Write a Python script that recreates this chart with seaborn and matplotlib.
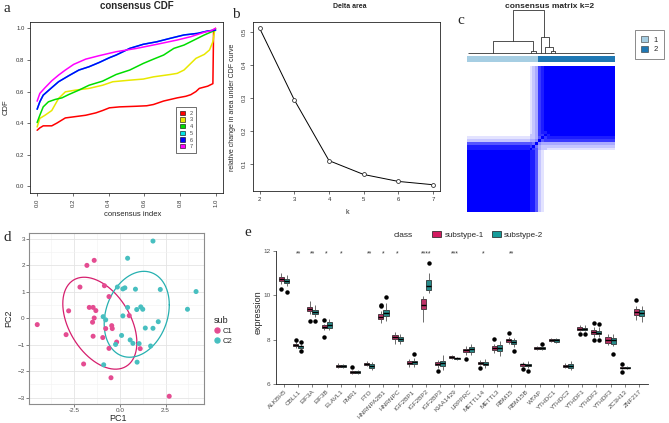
import numpy as np
import pandas as pd
import matplotlib
matplotlib.use("Agg")
import matplotlib.pyplot as plt
import seaborn as sns
from matplotlib.colors import ListedColormap
from matplotlib.patches import Patch
from matplotlib.lines import Line2D

# ---------------- panel a: consensus CDF ----------------
cdf_k = ["2", "3", "4", "5", "6", "7"]
cdf_colors = ["#FF0000", "#E8E800", "#00DD00", "#00E5E5", "#0000FF", "#FF00FF"]
cdf2_x = [0, .015, .034, .082, .11, .158, .205, .272, .329, .367, .405, .462, .557,
          .614, .652, .709, .785, .833, .861, .89, .909, .956, .985, .989, 1.0]
cdf2_y = [.355, .37, .383, .383, .40, .433, .44, .45, .465, .48, .497, .503, .507,
          .51, .518, .54, .56, .57, .58, .60, .62, .634, .65, .99, 1.0]
cdf3_x = [0, .015, .044, .082, .12, .158, .215, .291, .367, .424, .519, .595, .652,
          .747, .785, .823, .861, .89, .937, .966, .985, .994, 1.0]
cdf3_y = [.376, .43, .45, .48, .556, .598, .609, .62, .64, .662, .672, .679, .693,
          .708, .715, .736, .778, .81, .835, .863, .915, .979, .996]
cdf4_x = [0, .015, .034, .063, .101, .139, .177, .234, .291, .367, .443, .519, .595,
          .652, .709, .766, .823, .88, .937, 1.0]
cdf4_y = [.404, .45, .503, .535, .55, .56, .581, .609, .64, .666, .708, .736, .778,
          .805, .831, .873, .894, .926, .958, .989]
cdf6_x = [0, .015, .034, .072, .12, .177, .234, .291, .348, .405, .443, .519, .595,
          .671, .747, .823, .899, .956, 1.0]
cdf6_y = [.488, .535, .577, .615, .662, .70, .736, .757, .784, .814, .831, .873, .899,
          .915, .937, .958, .968, .983, .989]
# the k=5 curve is hidden underneath k=6 in the figure
cdf5_x = cdf6_x
cdf5_y = cdf6_y
cdf7_x = [0, .015, .044, .082, .12, .158, .205, .272, .348, .443, .557, .671, .785,
          .861, .937, .975, 1.0]
cdf7_y = [.539, .588, .624, .668, .704, .736, .772, .805, .827, .852, .873, .899, .926,
          .947, .975, .985, 1.0]

# ---------------- panel b: delta area ----------------
delta_k = [2, 3, 4, 5, 6, 7]
delta_area = [0.51, 0.293, 0.109, 0.067, 0.046, 0.036]

# ---------------- panel c: consensus matrix k=2 ----------------
# per-sample share of resamplings in which the sample fell into cluster 2
cluster_share = [0.0] * 22 + [0.15, 0.2, 0.35] + [0.75, 0.85, 0.9, 0.95] + [1.0] * 23
dend_left = [16.3, 9.3, 22.4, 25.9, 27.4, 29.4]
dend_right = [27.1, 23.35, 24.3, 28.8, 30.2, 31.0]
dend_height = [1.0, 0.28, 0.05, 0.36, 0.13, 0.05]
dend_lchild = [0.28, 0.0, 0.0, 0.0, 0.0, 0.0]
dend_rchild = [0.36, 0.05, 0.0, 0.13, 0.05, 0.0]
cluster_colors = ["#A6CEE3", "#1F78B4"]

# ---------------- panel d: PCA ----------------
c1_pc1 = [-4.53, -2.95, -2.81, -2.19, -1.81, -1.41, -1.99, -1.68, -1.47, -1.32, -1.41,
          -1.50, -1.47, -0.85, -0.60, -0.94, -0.78, -0.45, -0.42, -0.60, -0.18, -0.49,
          0.51, 1.11, 2.70]
c1_pc2 = [-0.24, -0.62, 0.28, 1.18, 2.0, 2.19, -1.73, 0.41, 0.41, 0.29, 0.01,
          -0.15, -0.68, 1.23, 0.82, -0.73, -0.39, -0.28, -0.39, -1.14, -0.90, -2.25,
          0.10, -1.15, -2.95]
c2_pc1 = [1.81, 0.42, -0.14, 0.16, 0.27, 0.85, 2.21, 4.17, 0.42, 0.92, 1.14, 1.25, 3.70,
          -0.92, -0.78, 0.16, 1.39, 1.81, 2.10, 0.09, 0.56, 0.71, 1.05, 1.68, -0.24,
          0.94, -0.89]
c2_pc2 = [2.92, 2.27, 1.18, 1.11, 1.15, 1.10, 1.09, 1.01, 0.41, 0.33, 0.43, 0.34, 0.34,
          0.06, -0.06, 0.09, -0.37, -0.38, -0.13, -0.65, -0.82, -0.95, -0.96, -1.05, -0.99,
          -1.66, -1.76]
pca_point_colors = {"C1": "#E44C91", "C2": "#47BFC0"}
pca_ellipse_colors = {"C1": "#D61F6E", "C2": "#26B0B0"}
ellipse_level = 0.64

# ---------------- panel e: m6A regulator expression ----------------
genes = ["ALKBH5", "CBLL1", "EIF3A", "EIF3B", "ELAVL1", "FMR1", "FTO", "HNRNPA2B1",
         "HNRNPC", "IGF2BP1", "IGF2BP2", "IGF2BP3", "KIAA1429", "LRPPRC", "METTL14",
         "METTL3", "RBM15", "RBM15B", "WTAP", "YTHDC1", "YTHDC2", "YTHDF1", "YTHDF2",
         "YTHDF3", "ZC3H13", "ZNF217"]
sig_labels = ["", "**", "**", "*", "*", "", "**", "*", "*", "", "****", "", "***", "",
              "*", "", "**", "", "", "", "", "", "", "", "", ""]
sub1_lo = [10.50, 7.64, 9.16, 8.45, 6.72, 6.47, 6.80, 8.74, 7.82, 6.76, 8.80, 6.75, 7.15,
           7.30, 6.85, 7.40, 7.82, 6.79, 7.55, 7.88, 6.71, 8.40, 8.12, 7.76, 6.70, 8.90]
sub1_q1 = [10.62, 7.72, 9.30, 8.52, 6.78, 6.52, 6.85, 8.94, 8.04, 6.90, 9.40, 6.86, 7.20,
           7.43, 6.90, 7.54, 7.92, 6.84, 7.60, 7.95, 6.76, 8.44, 8.26, 7.84, 6.72, 9.12]
sub1_med = [10.72, 7.76, 9.38, 8.59, 6.83, 6.56, 6.91, 9.04, 8.14, 6.96, 9.58, 6.93, 7.23,
            7.53, 6.95, 7.62, 7.98, 6.89, 7.64, 8.00, 6.83, 8.50, 8.33, 7.98, 6.75, 9.26]
sub1_q3 = [10.82, 7.80, 9.47, 8.65, 6.87, 6.59, 6.95, 9.14, 8.22, 7.03, 9.84, 7.01, 7.27,
           7.60, 6.99, 7.70, 8.04, 6.92, 7.67, 8.04, 6.88, 8.56, 8.42, 8.11, 6.78, 9.37]
sub1_hi = [11.02, 7.88, 9.72, 8.72, 6.97, 6.64, 7.03, 9.30, 8.35, 7.15, 9.97, 7.10, 7.31,
           7.74, 7.07, 7.82, 8.13, 7.00, 7.72, 8.10, 6.95, 8.68, 8.58, 8.26, 6.82, 9.50]
sub1_out = [[10.28], [7.98], [8.84], [8.88, 8.14], [], [6.76], [], [9.50, 9.56], [], [],
            [], [6.60], [], [7.14], [6.74], [8.04], [8.30], [6.68], [], [], [], [8.24],
            [8.74, 7.99], [], [6.93, 6.57], [9.78]]
sub2_lo = [10.40, 7.60, 9.02, 8.42, 6.72, 6.47, 6.64, 8.84, 7.79, 6.79, 10.08, 6.64, 7.08,
           7.32, 6.72, 7.27, 7.66, 6.74, 7.52, 7.84, 6.64, 8.38, 8.12, 7.70, 6.69, 8.82]
sub2_q1 = [10.56, 7.65, 9.16, 8.55, 6.76, 6.51, 6.73, 9.08, 7.93, 6.91, 10.22, 6.82, 7.12,
           7.45, 6.87, 7.50, 7.80, 6.82, 7.57, 7.92, 6.73, 8.43, 8.24, 7.81, 6.73, 9.05]
sub2_med = [10.65, 7.70, 9.25, 8.68, 6.81, 6.54, 6.81, 9.22, 8.02, 6.98, 10.40, 6.94, 7.16,
            7.60, 6.93, 7.63, 7.89, 6.87, 7.62, 7.98, 6.81, 8.48, 8.32, 7.97, 6.75, 9.22]
sub2_q3 = [10.74, 7.74, 9.33, 8.82, 6.85, 6.58, 6.89, 9.33, 8.12, 7.06, 10.70, 7.04, 7.19,
           7.67, 6.99, 7.78, 7.97, 6.92, 7.66, 8.03, 6.89, 8.54, 8.39, 8.08, 6.77, 9.34]
sub2_hi = [10.93, 7.79, 9.54, 8.95, 6.92, 6.63, 7.00, 9.65, 8.24, 7.20, 11.02, 7.30, 7.23,
           7.82, 7.12, 7.94, 8.08, 7.04, 7.71, 8.10, 7.04, 8.66, 8.56, 8.25, 6.82, 9.50]
sub2_out = [[10.14], [7.88, 7.50], [8.84], [], [], [], [], [9.92], [], [7.36], [11.45],
            [], [], [], [], [], [7.50], [6.59], [7.83], [], [], [8.24], [8.70, 7.99],
            [7.38], [], []]
class_colors = {"substype-1": "#D41A60", "substype-2": "#169C9A"}

# ---------------- figure ----------------
W, H = 669, 423
sns.set_theme(style="white")
plt.rcParams["font.family"] = ["Liberation Sans", "DejaVu Sans"]
fig = plt.figure(figsize=(W / 100, H / 100), dpi=100)


def add_ax(x0, y0, x1, y1):
    return fig.add_axes([x0 / W, 1 - y1 / H, (x1 - x0) / W, (y1 - y0) / H])


def ftext(x, y, s, **kw):
    kw.setdefault("ha", "center")
    kw.setdefault("va", "center")
    return fig.text(x / W, 1 - y / H, s, **kw)


def r_box(ax):
    for sp in ax.spines.values():
        sp.set_visible(True)
        sp.set_color("#222222")
        sp.set_linewidth(0.6)
    ax.tick_params(direction="out", length=2.5, width=0.5, labelsize=4.3,
                   colors="#333333", pad=1.5, bottom=True, left=True)


for lab, x, y in [("a", 7, 8), ("b", 236, 15), ("c", 461, 20), ("d", 7, 237), ("e", 248, 232)]:
    ftext(x, y, lab, family="Liberation Serif", fontsize=11)

# ---- a ----
ax_a = add_ax(30, 22, 222.7, 192.7)
cdf_x = [cdf2_x, cdf3_x, cdf4_x, cdf5_x, cdf6_x, cdf7_x]
cdf_y = [cdf2_y, cdf3_y, cdf4_y, cdf5_y, cdf6_y, cdf7_y]
df_a = pd.concat([pd.DataFrame({"index": xs, "cdf": ys, "k": k})
                  for k, xs, ys in zip(cdf_k, cdf_x, cdf_y)], ignore_index=True)
sns.lineplot(data=df_a, x="index", y="cdf", hue="k", palette=dict(zip(cdf_k, cdf_colors)),
             estimator=None, sort=False, lw=1.1, legend=False, ax=ax_a)
ax_a.set_xlim(-0.04, 1.04)
ax_a.set_ylim(-0.04, 1.04)
ticks = [0, 0.2, 0.4, 0.6, 0.8, 1.0]
ax_a.set_xticks(ticks)
ax_a.set_xticklabels([f"{t:.1f}" for t in ticks], rotation=90)
ax_a.set_yticks(ticks)
ax_a.set_yticklabels([f"{t:.1f}" for t in ticks])
ax_a.set_xlabel("")
ax_a.set_ylabel("")
r_box(ax_a)
leg = ax_a.legend([Patch(facecolor=c, edgecolor="black", lw=0.4) for c in cdf_colors], cdf_k,
                  loc="lower left", bbox_to_anchor=(0.76, 0.235), fontsize=4, frameon=True,
                  fancybox=False, edgecolor="black", handlelength=0.9, handleheight=0.8,
                  handletextpad=0.9, labelspacing=0.3, borderpad=0.6, borderaxespad=0)
leg.get_frame().set_linewidth(0.5)
for t in leg.get_texts():
    t.set_color("#444444")
ftext(137, 6, "consensus CDF", fontsize=7, fontweight="bold")
ftext(6, 107, "CDF", fontsize=5.5, rotation=90)
ftext(133, 214, "consensus index", fontsize=5.5)

# ---- b ----
ax_b = add_ax(252.7, 22, 440, 191)
sns.lineplot(x=delta_k, y=delta_area, color="black", lw=0.7, marker="o", markersize=2.8,
             markerfacecolor="white", markeredgecolor="#333333", markeredgewidth=0.6, ax=ax_b)
ax_b.set_xlim(1.8, 7.2)
ax_b.set_ylim(0.017, 0.529)
ax_b.set_xticks(delta_k)
ax_b.set_yticks([0.1, 0.2, 0.3, 0.4, 0.5])
ax_b.set_yticklabels(["0.1", "0.2", "0.3", "0.4", "0.5"], rotation=90, va="center")
r_box(ax_b)
ftext(350, 6, "Delta area", fontsize=5, fontweight="bold")
ftext(233, 107, "relative change in area under CDF curve", fontsize=5, rotation=90)
ftext(347, 213, "k", fontsize=5)

# ---- c ----
share = np.array(cluster_share)
n_s = len(share)
cons = np.outer(share, share) + np.outer(1 - share, 1 - share)
np.fill_diagonal(cons, 1.0)
order = np.arange(n_s)
df_c = pd.DataFrame(cons[order[::-1]][:, order])
levels = np.linspace(255, 0, 10) / 255
cm_c = ListedColormap([(v, v, 1.0) for v in levels])
ax_c = add_ax(466.7, 66, 615.3, 212.3)
sns.heatmap(df_c, cmap=cm_c, vmin=0, vmax=1, cbar=False, xticklabels=False,
            yticklabels=False, linewidths=0, ax=ax_c)
ax_cb = add_ax(466.7, 56, 615.3, 62)
cluster_id = (share > 0.5).astype(int)
sns.heatmap(pd.DataFrame([cluster_id]), cmap=ListedColormap(cluster_colors), vmin=0, vmax=1,
            cbar=False, xticklabels=False, yticklabels=False, ax=ax_cb)
ax_dn = add_ax(466.7, 10, 615.3, 52.7)
ax_dn.set_xlim(0, n_s)
ax_dn.set_ylim(0, 1)
ax_dn.axis("off")
ax_dn.hlines(0, 0.5, n_s - 0.5, color="#333333", lw=0.6, clip_on=False)
for xl, xr, h, hl, hr in zip(dend_left, dend_right, dend_height, dend_lchild, dend_rchild):
    ax_dn.plot([xl, xl, xr, xr], [hl, h, h, hr], color="#333333", lw=0.6, clip_on=False)
ftext(550, 6, "consensus matrix k=2", fontsize=6, fontweight="bold")
leg_c = fig.legend([Patch(facecolor=c, edgecolor="#333333", lw=0.4) for c in cluster_colors],
                   ["1", "2"], loc="upper right", bbox_to_anchor=(668 / W, 1 - 26 / H),
                   fontsize=5.5, fancybox=False, edgecolor="#333333", handlelength=0.9,
                   handleheight=0.8, handletextpad=0.8, labelspacing=0.3, borderpad=0.8)
leg_c.get_frame().set_linewidth(0.5)

# ---- d ----
df_d = pd.concat([pd.DataFrame({"PC1": c1_pc1, "PC2": c1_pc2, "sub": "C1"}),
                  pd.DataFrame({"PC1": c2_pc1, "PC2": c2_pc2, "sub": "C2"})], ignore_index=True)
ax_d = add_ax(29.3, 233.3, 204, 404)
sns.scatterplot(data=df_d, x="PC1", y="PC2", hue="sub", palette=pca_point_colors, s=13,
                linewidth=0, legend=False, ax=ax_d, zorder=3)


def norm_ellipse(x, y, level, seg=80):
    # same construction as ggplot2::stat_ellipse(type = "norm")
    pts = np.column_stack([x, y])
    n = len(pts)
    center = pts.mean(axis=0)
    cov = np.cov(pts, rowvar=False)
    dfd = n - 1
    radius = np.sqrt(dfd * (np.power(1 - level, -2 / dfd) - 1))
    ang = np.linspace(0, 2 * np.pi, seg + 1)
    circ = np.column_stack([np.cos(ang), np.sin(ang)])
    return center + radius * circ @ np.linalg.cholesky(cov).T


for name, g in df_d.groupby("sub"):
    el = norm_ellipse(g["PC1"].values, g["PC2"].values, ellipse_level)
    ax_d.plot(el[:, 0], el[:, 1], color=pca_ellipse_colors[name], lw=0.9, zorder=2)

xr = df_d["PC1"].max() - df_d["PC1"].min()
yr = df_d["PC2"].max() - df_d["PC2"].min()
ax_d.set_xlim(df_d["PC1"].min() - 0.05 * xr, df_d["PC1"].max() + 0.05 * xr)
ax_d.set_ylim(df_d["PC2"].min() - 0.05 * yr, df_d["PC2"].max() + 0.05 * yr)
ax_d.set_xticks([-2.5, 0, 2.5])
ax_d.set_xticklabels(["-2.5", "0.0", "2.5"])
ax_d.set_xticks([-3.75, -1.25, 1.25, 3.75], minor=True)
ax_d.set_yticks([-3, -2, -1, 0, 1, 2, 3])
ax_d.set_yticks([-2.5, -1.5, -0.5, 0.5, 1.5, 2.5], minor=True)
ax_d.grid(which="major", color="#E4E4E4", lw=0.6)
ax_d.grid(which="minor", color="#F2F2F2", lw=0.4)
ax_d.set_axisbelow(True)
for sp in ax_d.spines.values():
    sp.set_visible(True)
    sp.set_color("#8C8C8C")
    sp.set_linewidth(0.8)
ax_d.tick_params(which="major", direction="out", length=2, width=0.5, labelsize=4.6,
                 colors="#4D4D4D", pad=1.2, bottom=True, left=True)
ax_d.tick_params(which="minor", length=0)
ax_d.set_xlabel("")
ax_d.set_ylabel("")
ftext(118, 418.5, "PC1", fontsize=6.5)
ftext(9, 318, "PC2", fontsize=6.5, rotation=90)
leg_d = fig.legend([Line2D([], [], marker="o", ls="", mfc=pca_point_colors[k],
                           mec=pca_point_colors[k], ms=3.6) for k in ["C1", "C2"]],
                   ["C1", "C2"], title="sub", loc="upper left",
                   bbox_to_anchor=(207 / W, 1 - 309 / H), frameon=False, fontsize=5.5,
                   title_fontsize=6.5, handlelength=0.8, handletextpad=0.4,
                   labelspacing=0.35, alignment="left")

# ---- e ----
rows = []
for cls, lo, q1, med, q3, hi, out in [
        ("substype-1", sub1_lo, sub1_q1, sub1_med, sub1_q3, sub1_hi, sub1_out),
        ("substype-2", sub2_lo, sub2_q1, sub2_med, sub2_q3, sub2_hi, sub2_out)]:
    for i, gene in enumerate(genes):
        vals = [lo[i]] + [q1[i]] * 6 + [med[i]] * 6 + [q3[i]] * 6 + [hi[i]] + out[i]
        rows += [(gene, cls, v) for v in vals]
df_e = pd.DataFrame(rows, columns=["gene", "class", "expression"])

ax_e = add_ax(275.5, 250.7, 647.5, 384.3)
sns.boxplot(data=df_e, x="gene", y="expression", hue="class", order=genes,
            palette=class_colors, width=0.72, gap=0, linewidth=0.5, linecolor="#1A1A1A",
            showcaps=False, fliersize=2.2,
            flierprops=dict(marker="o", markerfacecolor="black", markeredgecolor="black"),
            whiskerprops=dict(color="#555555", lw=0.6),
            medianprops=dict(color="black", lw=1.0),
            legend=False, ax=ax_e)
for i, lab in enumerate(sig_labels):
    if lab:
        ax_e.text(i, 11.84, lab, ha="center", va="center", fontsize=5, color="#333333")
ax_e.set_xlim(-0.6, len(genes) - 0.4)
ax_e.set_ylim(6, 12)
ax_e.set_yticks([6, 8, 10, 12])
ax_e.set_xticks(range(len(genes)))
ax_e.set_xticklabels(genes, rotation=45, ha="right", rotation_mode="anchor")
sns.despine(ax=ax_e)
for sp in ["left", "bottom"]:
    ax_e.spines[sp].set_color("#222222")
    ax_e.spines[sp].set_linewidth(0.6)
ax_e.tick_params(direction="out", length=2, width=0.5, labelsize=4.6, colors="#4D4D4D",
                 pad=1.5, bottom=True, left=True)
ax_e.set_xlabel("")
ax_e.set_ylabel("")
ftext(258, 312, "expression", fontsize=6.5, rotation=90)
ftext(403, 235, "class", fontsize=6)
fig.legend([Patch(facecolor=c, edgecolor="#1A1A1A", lw=0.5) for c in class_colors.values()],
           list(class_colors.keys()), loc="center left", bbox_to_anchor=(425 / W, 1 - 235 / H),
           ncol=2, frameon=False, fontsize=5.8, handlelength=1.1, handleheight=0.8,
           handletextpad=0.4, columnspacing=1.0)

fig.savefig("out.png", dpi=100)
